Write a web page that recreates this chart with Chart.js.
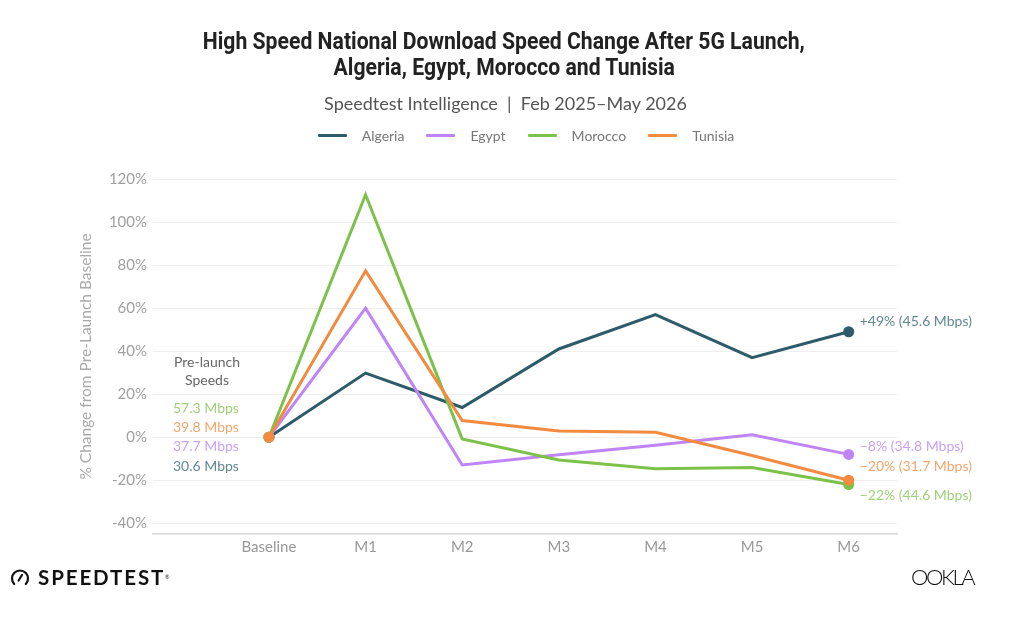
<!DOCTYPE html>
<html>
<head>
<meta charset="utf-8">
<script src="https://cdn.jsdelivr.net/npm/chart.js@4.4.1/dist/chart.umd.min.js"></script>
<style>
  html, body { margin:0; padding:0; background:#fff; width:1024px; height:618px; overflow:hidden; font-family: Lato, "Open Sans", sans-serif; }
  #wrap { position:relative; width:1024px; height:618px; }
  #chart { position:absolute; left:0; top:0; }
  .title { position:absolute; left:0; width:1008px; text-align:center; color:#222; top:29px; }
  .title div { font-family: Roboto, "Noto Sans", sans-serif; font-weight:700; font-size:23px; line-height:26px; white-space:nowrap; display:inline-block; transform-origin:50% 50%; }
  .subtitle { position:absolute; left:0; width:1011px; text-align:center; color:#555; font-size:18px; top:92px; }
  .legend { position:absolute; left:0; width:1052px; top:127px; display:flex; justify-content:center; align-items:center; font-size:14px; color:#777; }
  .legend .item { display:flex; align-items:center; margin:0 11px; }
  .legend .sw { width:29px; height:3px; margin-right:15px; border-radius:1px; }
  .logo-left { position:absolute; left:10px; top:565px; display:flex; align-items:center; }
  .logo-left span { font-family: Lato, sans-serif; font-weight:700; font-size:20.5px; letter-spacing:1.9px; color:#111; margin-left:8px; }
  .logo-left sup { font-size:5px; color:#111; margin-left:0px; vertical-align:top; }
  .logo-right { position:absolute; left:911px; top:563px; font-family: Lato, sans-serif; font-weight:300; font-size:22px; letter-spacing:-2.4px; color:#111; }
</style>
</head>
<body>
<div id="wrap">
  <canvas id="chart" width="1024" height="618"></canvas>
  <div class="title">
    <div id="t1">High Speed National Download Speed Change After 5G Launch,</div><br>
    <div id="t2">Algeria, Egypt, Morocco and Tunisia</div>
  </div>
  <div class="subtitle">Speedtest Intelligence &nbsp;|&nbsp; Feb 2025–May 2026</div>
  <div class="legend" id="legend"></div>
  <div class="logo-left">
    <svg width="20" height="18" viewBox="0 0 20 18">
      <path d="M4.2 16 A8 8 0 1 1 15.8 16" fill="none" stroke="#111" stroke-width="2.2" stroke-linecap="round"/>
      <line x1="8.6" y1="12.5" x2="12" y2="7" stroke="#111" stroke-width="2.2" stroke-linecap="round"/>
    </svg>
    <span>SPEEDTEST</span><sup>®</sup>
  </div>
  <div class="logo-right">OOKLA</div>
</div>
<script>
// ---------- data ----------
const categories = ["Baseline", "M1", "M2", "M3", "M4", "M5", "M6"];
const seriesNames = ["Algeria", "Egypt", "Morocco", "Tunisia"];
const algeria = [0, 29.8, 13.8, 41.0, 57.0, 37.0, 49.0];
const egypt   = [0, 60.0, -12.9, -8.2, -3.7, 1.1, -8.0];
const morocco = [0, 112.7, -0.8, -10.6, -14.7, -14.1, -22.0];
const tunisia = [0, 77.3, 7.7, 2.9, 2.3, -8.5, -20.0];
const preLaunchMbps = [30.6, 37.7, 57.3, 39.8];
const endChangeLabels = ["+49%", "−8%", "−22%", "−20%"];
const endMbps = [45.6, 34.8, 44.6, 31.7];
const yTicks = [-40, -20, 0, 20, 40, 60, 80, 100, 120];

// ---------- styles ----------
const lineColors  = ["#2e5b69", "#bf85f7", "#7cc24a", "#f28b3f"];
const labelColors = ["#628894", "#c9a2f7", "#9fd27a", "#f5a66d"];
const endLabelDy  = [-10, -8, 11, -14];

const seriesValues = [algeria, egypt, morocco, tunisia];

// condensed title: scale the bold title to the reference's condensed width
(function () {
  const t1 = document.getElementById('t1'), t2 = document.getElementById('t2');
  const k = 602 / t1.getBoundingClientRect().width;
  t1.style.transform = 'scaleX(' + k + ')';
  t2.style.transform = 'scaleX(' + k + ')';
})();

// legend (HTML)
const legendEl = document.getElementById('legend');
seriesNames.forEach((n, i) => {
  const it = document.createElement('div'); it.className = 'item';
  const sw = document.createElement('div'); sw.className = 'sw'; sw.style.background = lineColors[i];
  const tx = document.createElement('span'); tx.textContent = n;
  it.appendChild(sw); it.appendChild(tx); legendEl.appendChild(it);
});

const datasets = seriesNames.map((name, i) => ({
  label: name,
  order: seriesNames.length - i,
  data: categories.map((c, j) => ({ x: j, y: seriesValues[i][j] })),
  borderColor: lineColors[i],
  backgroundColor: lineColors[i],
  borderWidth: 3,
  tension: 0,
  pointRadius: ctx => (ctx.dataIndex === 0 || ctx.dataIndex === categories.length - 1) ? 5.5 : 0,
  pointHoverRadius: 0,
  pointBorderWidth: 0,
  pointBackgroundColor: lineColors[i]
}));

const annotPlugin = {
  id: 'annot',
  afterDatasetsDraw(chart) {
    const { ctx, scales: { x, y }, chartArea } = chart;
    ctx.save();
    ctx.font = '14px Lato, "Open Sans", sans-serif';
    ctx.textBaseline = 'middle';
    // end labels
    const lastIdx = categories.length - 1;
    const lx = x.getPixelForValue(lastIdx) + 11;
    seriesNames.forEach((n, i) => {
      const py = y.getPixelForValue(seriesValues[i][lastIdx]) + endLabelDy[i];
      ctx.fillStyle = labelColors[i];
      ctx.textAlign = 'left';
      ctx.fillText(endChangeLabels[i] + ' (' + endMbps[i].toFixed(1) + ' Mbps)', lx, py);
    });
    // pre-launch speeds
    const zeroY = y.getPixelForValue(0);
    const cx = chartArea.left + 54;
    ctx.fillStyle = '#666';
    ctx.textAlign = 'center';
    ctx.fillText('Pre-launch', cx, zeroY - 75);
    ctx.fillText('Speeds', cx, zeroY - 57);
    const order = preLaunchMbps.map((v, i) => i).sort((a, b) => preLaunchMbps[b] - preLaunchMbps[a]);
    ctx.textAlign = 'left';
    order.forEach((si, k) => {
      ctx.fillStyle = labelColors[si];
      ctx.fillText(preLaunchMbps[si].toFixed(1) + ' Mbps', chartArea.left + 20, zeroY - 29 + k * 19.4);
    });
    ctx.restore();
  }
};

new Chart(document.getElementById('chart'), {
  type: 'line',
  data: { datasets },
  plugins: [annotPlugin],
  options: {
    responsive: false,
    animation: false,
    events: [],
    layout: { padding: { left: 0, right: 127, top: 179, bottom: 54 } },
    plugins: { legend: { display: false }, tooltip: { enabled: false }, title: { display: false } },
    scales: {
      x: {
        type: 'linear',
        min: -1.2, max: 6.5,
        afterBuildTicks: s => { s.ticks = categories.map((c, i) => ({ value: i })); },
        afterFit: s => { s.height = 30; },
        ticks: {
          callback: v => categories[Math.round(v)],
          color: '#999', font: { family: 'Lato', size: 15 }, padding: 4, maxRotation: 0, autoSkip: false
        },
        grid: { display: false, drawTicks: false },
        border: { display: true, color: '#d6d6d6', width: 1.5 }
      },
      y: {
        min: -45, max: 120,
        afterBuildTicks: s => { s.ticks = yTicks.map(v => ({ value: v })); },
        afterFit: s => { s.width = 153; },
        ticks: {
          callback: v => v + '%',
          color: '#a0a0a0', font: { family: 'Lato', size: 15 }, padding: 6
        },
        grid: { color: '#efefef', lineWidth: 1, drawTicks: false },
        border: { display: false },
        title: {
          display: true, text: '% Change from Pre-Launch Baseline',
          color: '#aaa', font: { family: 'Lato', size: 15.5 }, padding: { top: 77, bottom: 0 }
        }
      }
    }
  }
});
</script>
</body>
</html>
